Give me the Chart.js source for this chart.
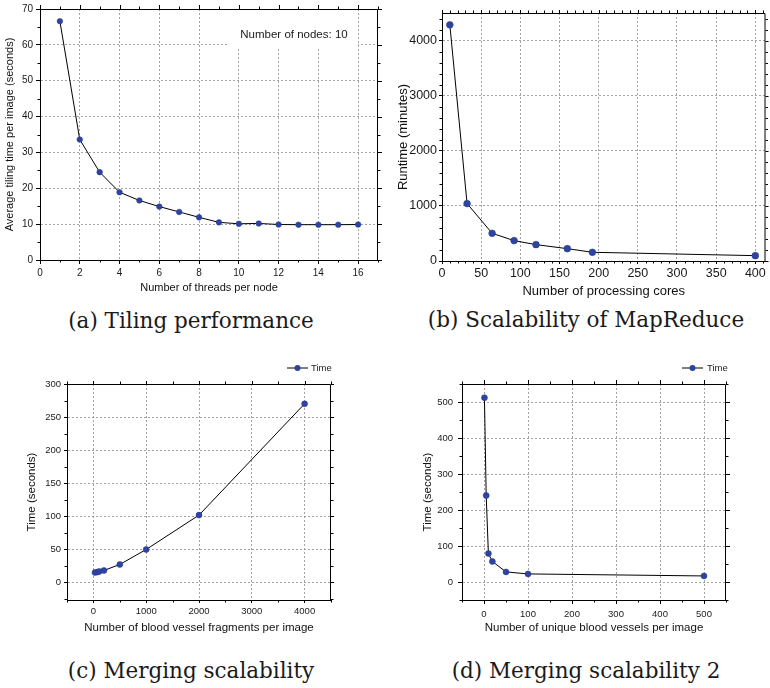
<!DOCTYPE html>
<html>
<head>
<meta charset="utf-8">
<script src="https://cdn.jsdelivr.net/npm/chart.js@4.4.1/dist/chart.umd.min.js"></script>
<style>
    body { margin: 0; background: #fff; }
    #figure { position: relative; width: 770px; height: 688px; background: #fff; overflow: hidden; }
    .panel { position: absolute; }
    .caption {
        position: absolute;
        font-family: 'DejaVu Serif', 'Liberation Serif', serif;
        font-size: 21.5px;
        color: #1a1a1a;
        white-space: nowrap;
        transform: translate(-50%, -50%);
    }
</style>
</head>
<body>
<div id="figure">
    <canvas id="tiling" class="panel" width="385" height="295" style="left:0;top:0"></canvas>
    <canvas id="mapreduce" class="panel" width="385" height="299" style="left:385px;top:0"></canvas>
    <canvas id="merging" class="panel" width="385" height="295" style="left:0;top:345px"></canvas>
    <canvas id="merging2" class="panel" width="385" height="295" style="left:385px;top:345px"></canvas>
    <div class="caption" style="left:191px;top:320px">(a) Tiling performance</div>
    <div class="caption" style="left:586px;top:319px">(b) Scalability of MapReduce</div>
    <div class="caption" style="left:191px;top:670px">(c) Merging scalability</div>
    <div class="caption" style="left:586px;top:670px">(d) Merging scalability 2</div>
</div>
<script>
// (a) tiling time vs threads per node
const tilingThreads = [1, 2, 3, 4, 5, 6, 7, 8, 9, 10, 11, 12, 13, 14, 15, 16];
const tilingTime = [66.6, 33.6, 24.5, 18.9, 16.6, 14.9, 13.4, 11.9, 10.5, 10.1, 10.2, 9.9, 9.85, 9.85, 9.85, 9.9];
const tilingXTicks = [0, 2, 4, 6, 8, 10, 12, 14, 16];
const tilingYTicks = [0, 10, 20, 30, 40, 50, 60, 70];

// (b) MapReduce runtime vs cores
const mrCores = [10, 32, 64, 92, 120, 160, 192, 400];
const mrRuntime = [4285, 1042, 503, 370, 297, 224, 158, 97];
const mrXTicks = [0, 50, 100, 150, 200, 250, 300, 350, 400];
const mrYTicks = [0, 1000, 2000, 3000, 4000];

// (c) merging time vs fragments
const fragCount = [30, 75, 110, 200, 500, 1000, 2000, 4000];
const fragTime = [14.6, 15.2, 16.2, 17.7, 26.8, 49.5, 101.5, 270];
const fragXTicks = [0, 1000, 2000, 3000, 4000];
const fragYTicks = [0, 50, 100, 150, 200, 250, 300];

// (d) merging time vs unique vessels
const vesselCount = [1, 5, 10, 19, 50, 100, 500];
const vesselTime = [512, 240, 79, 57, 28, 22.4, 16.8];
const vesselXTicks = [0, 100, 200, 300, 400, 500];
const vesselYTicks = [0, 100, 200, 300, 400, 500];

const FONT = "'Liberation Sans', Arial, sans-serif";
const POINT_COLOR = '#2f43a3';
const GRID_COLOR = '#8c8c8c';

Chart.defaults.font.family = FONT;
Chart.defaults.color = '#1a1a1a';

const isMajor = (v, list) => list.some(t => Math.abs(t - v) < 1e-6);

// frame on top/right, minor ticks, legend and text note
const framePlugin = {
    id: 'frame',
    beforeDatasetsDraw(chart, args, opts) {
        const note = opts.note;
        if (!note) return;
        const ctx = chart.ctx;
        ctx.save();
        ctx.fillStyle = '#fff';
        ctx.fillRect(note.box[0], note.box[1], note.box[2], note.box[3]);
        ctx.fillStyle = '#1a1a1a';
        ctx.font = `${note.size}px ${FONT}`;
        ctx.textAlign = 'center';
        ctx.textBaseline = 'middle';
        ctx.fillText(note.text, note.x, note.y);
        ctx.restore();
    },
    afterDraw(chart, args, opts) {
        const { ctx, chartArea: a, scales: { x, y } } = chart;
        ctx.save();
        ctx.strokeStyle = '#000';
        ctx.lineWidth = 1;
        ctx.beginPath();
        ctx.moveTo(a.left, a.top + 0.5);
        ctx.lineTo(a.right - 0.5, a.top + 0.5);
        ctx.lineTo(a.right - 0.5, a.bottom);
        ctx.stroke();

        ctx.beginPath();
        const xStart = Math.ceil(x.min / opts.xMinor) * opts.xMinor;
        for (let v = xStart; v <= x.max + 1e-9; v += opts.xMinor) {
            const px = Math.round(x.getPixelForValue(v)) + 0.5;
            const major = isMajor(v, opts.xTicks);
            const len = major ? opts.majorLen : opts.minorLen;
            if (!major) {
                ctx.moveTo(px, a.bottom);
                ctx.lineTo(px, a.bottom + len);
            }
            ctx.moveTo(px, a.top);
            ctx.lineTo(px, a.top - len);
        }
        const yStart = Math.ceil(y.min / opts.yMinor) * opts.yMinor;
        for (let v = yStart; v <= y.max + 1e-9; v += opts.yMinor) {
            const py = Math.round(y.getPixelForValue(v)) + 0.5;
            const major = isMajor(v, opts.yTicks);
            const len = major ? opts.majorLen : opts.minorLen;
            if (!major) {
                ctx.moveTo(a.left, py);
                ctx.lineTo(a.left - len, py);
            }
            ctx.moveTo(a.right, py);
            ctx.lineTo(a.right + len, py);
        }
        ctx.stroke();

        const lg = opts.legend;
        if (lg) {
            ctx.beginPath();
            ctx.moveTo(lg.x1, lg.y);
            ctx.lineTo(lg.x2, lg.y);
            ctx.stroke();
            ctx.fillStyle = POINT_COLOR;
            ctx.beginPath();
            ctx.arc((lg.x1 + lg.x2) / 2, lg.y, 3, 0, Math.PI * 2);
            ctx.fill();
            ctx.fillStyle = '#1a1a1a';
            ctx.font = `9.5px ${FONT}`;
            ctx.textAlign = 'left';
            ctx.textBaseline = 'middle';
            ctx.fillText(chart.data.datasets[0].label, lg.tx, lg.y);
        }
        ctx.restore();
    }
};

function buildPanel(p) {
    const canvas = document.getElementById(p.id);
    const W = canvas.width;
    const H = canvas.height;
    const axis = (s, horizontal) => ({
        type: 'linear',
        min: s.min,
        max: s.max,
        afterFit: (scale) => {
            if (horizontal) scale.height = H - p.area.b;
            else scale.width = p.area.l;
        },
        afterBuildTicks: (scale) => {
            scale.ticks = s.ticks.map(v => ({ value: v }));
        },
        ticks: {
            maxRotation: 0,
            autoSkip: false,
            padding: p.tickPad,
            font: { size: p.tickSize },
            color: '#1a1a1a',
            callback: (v) => String(v)
        },
        grid: {
            color: GRID_COLOR,
            lineWidth: 0.8,
            tickLength: p.tickLen,
            tickColor: '#000',
            tickWidth: 1,
            tickBorderDash: []
        },
        border: { color: '#000', width: 1, dash: [2, 2] },
        title: {
            display: true,
            text: s.title,
            color: '#111',
            font: { size: p.titleSize },
            padding: horizontal ? { top: 0, bottom: s.pad } : { top: s.pad, bottom: 0 }
        }
    });

    return new Chart(canvas, {
        type: 'line',
        data: {
            datasets: [{
                label: p.label,
                data: p.xs.map((v, i) => ({ x: v, y: p.ys[i] })),
                borderColor: '#000',
                borderWidth: 1,
                tension: 0,
                pointRadius: p.radius,
                pointBackgroundColor: POINT_COLOR,
                pointBorderColor: '#27398f',
                pointBorderWidth: 0.5
            }]
        },
        options: {
            responsive: false,
            animation: false,
            layout: { padding: { left: 0, top: p.area.t, right: W - p.area.r, bottom: 0 } },
            plugins: {
                legend: { display: false },
                tooltip: { enabled: false },
                frame: {
                    xTicks: p.x.ticks, xMinor: p.x.minor,
                    yTicks: p.y.ticks, yMinor: p.y.minor,
                    majorLen: p.tickLen, minorLen: 2.5,
                    legend: p.legend, note: p.note
                }
            },
            scales: { x: axis(p.x, true), y: axis(p.y, false) }
        },
        plugins: [framePlugin]
    });
}

const figure = {
    init: () => {
        buildPanel({
            id: 'tiling', label: 'Time', xs: tilingThreads, ys: tilingTime,
            area: { l: 40, t: 7, r: 378, b: 260 },
            tickSize: 10, titleSize: 11, tickLen: 4, tickPad: 3, radius: 2.8,
            x: { min: 0, max: 17, ticks: tilingXTicks, minor: 1, title: 'Number of threads per node', pad: 0 },
            y: { min: 0, max: 70, ticks: tilingYTicks, minor: 5, title: 'Average tiling time per image (seconds)', pad: 3.5 },
            note: { text: 'Number of nodes: 10', x: 294, y: 35, size: 11.5, box: [228, 8, 130, 40] }
        });

        buildPanel({
            id: 'mapreduce', label: 'Runtime', xs: mrCores, ys: mrRuntime,
            area: { l: 57, t: 13, r: 383, b: 261 },
            tickSize: 12.5, titleSize: 13, tickLen: 3, tickPad: 2, radius: 3.4,
            x: { min: 0, max: 413, ticks: mrXTicks, minor: 10, title: 'Number of processing cores', pad: 0 },
            y: { min: 0, max: 4500, ticks: mrYTicks, minor: 200, title: 'Runtime (minutes)', pad: 10.5 }
        });

        buildPanel({
            id: 'merging', label: 'Time', xs: fragCount, ys: fragTime,
            area: { l: 67, t: 39, r: 331, b: 255 },
            tickSize: 9.5, titleSize: 11.5, tickLen: 3, tickPad: 3, radius: 3,
            x: { min: -500, max: 4500, ticks: fragXTicks, minor: 500, title: 'Number of blood vessel fragments per image', pad: 5 },
            y: { min: -27, max: 300, ticks: fragYTicks, minor: 25, title: 'Time (seconds)', pad: 25.4 },
            legend: { x1: 287, x2: 308, y: 23, tx: 311 }
        });

        buildPanel({
            id: 'merging2', label: 'Time', xs: vesselCount, ys: vesselTime,
            area: { l: 77, t: 39, r: 341, b: 255 },
            tickSize: 9.5, titleSize: 11.5, tickLen: 4, tickPad: 5, radius: 3,
            x: { min: -50, max: 550, ticks: vesselXTicks, minor: 50, title: 'Number of unique blood vessels per image', pad: 5 },
            y: { min: -50, max: 550, ticks: vesselYTicks, minor: 50, title: 'Time (seconds)', pad: 36.4 },
            legend: { x1: 297, x2: 318, y: 23, tx: 322 }
        });
    }
};

document.addEventListener('DOMContentLoaded', () => {
    figure.init();
});
</script>
</body>
</html>
